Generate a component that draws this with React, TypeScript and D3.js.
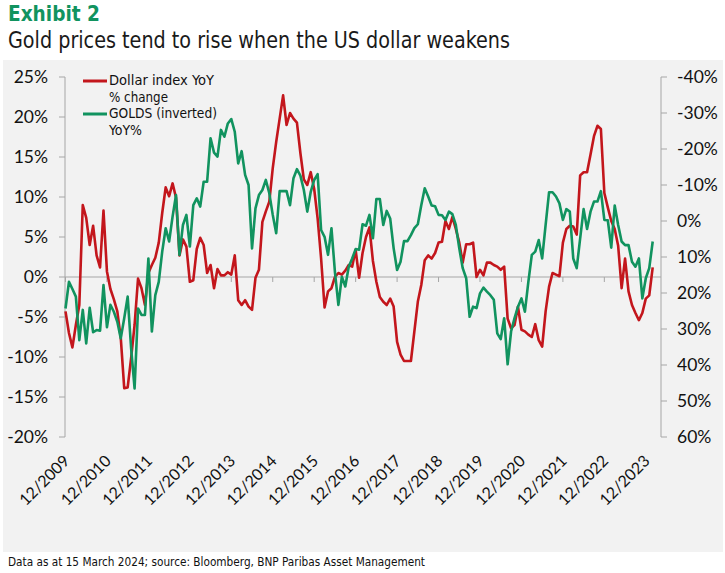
import * as d3 from "d3";

// monthly YoY % change, 12/2009 .. 02/2024
const dollarYoY = [
  -4.3, -7.0, -8.8, -6.0, -3.5, 9.0, 7.4, 4.0, 6.4, 2.7,
  1.2, 8.3, 0.7, -1.5, -2.8, -4.3, -7.6, -13.9, -13.8, -10.1,
  -6.0, -0.2, -1.4, -3.5, 0.5, 1.5, 2.4, 4.3, 8.0, 11.2,
  10.1, 11.7, 9.9, 2.7, 4.7, 3.8, -0.6, -0.4, 3.5, 4.9,
  4.0, 0.5, 1.5, -1.4, 1.0, 0.2, 0.2, 0.6, 0.3, 2.7,
  -2.9, -3.5, -2.9, -3.7, -4.1, -0.1, 0.9, 6.9, 8.2, 9.4,
  13.6, 16.9, 19.8, 22.7, 19.0, 20.5, 19.8, 19.3, 15.5, 12.2,
  11.5, 13.1, 11.0, 7.3, 2.3, -3.8, -1.8, -1.4, 0.0, 0.5,
  0.3, 0.8, 1.5, 1.3, 3.4, -0.1, 3.0, 5.0, 6.2, 2.0,
  -0.6, -2.5, -3.1, -3.5, -2.7, -3.7, -8.1, -9.7, -10.5, -10.5,
  -10.5, -6.8, -3.1, -1.0, 2.1, 2.7, 2.3, 3.0, 4.3, 4.4,
  7.0, 6.0, 7.5, 6.0, 4.3, 1.8, 4.1, 4.1, 4.3, 0.0,
  0.9, 0.2, 1.8, 1.8, 1.5, 1.3, 0.9, 1.3, -5.2, -6.4,
  -6.0, -3.7, -6.6, -6.8, -7.2, -7.5, -5.9, -7.9, -8.7, -4.3,
  -1.2, 0.5, 0.3, 0.1, 4.3, 6.0, 6.4, 6.3, 5.3, 12.7,
  13.1, 13.1, 15.3, 17.6, 18.9, 18.5, 10.5, 8.7, 7.0, 6.0,
  3.9, -1.4, 2.3, -1.8, -3.5, -4.5, -5.4, -4.5, -2.7, -2.3,
  1.2,
];

// gold YoY %, plotted on the inverted right axis
const goldYoY = [
  24.3, 16.9, 18.9, 21.0, 33.1, 24.7, 34.0, 24.1, 30.9, 30.3,
  30.5, 17.8, 29.5, 23.3, 25.2, 28.0, 32.6, 27.0, 21.0, 35.4,
  46.5, 24.3, 26.1, 26.1, 10.4, 30.7, 20.6, 16.9, 8.5, 2.0,
  5.7, -1.2, -7.2, 9.4, 1.1, -1.7, 7.1, -4.4, -6.3, -4.0,
  -10.9, -10.9, -23.0, -19.0, -17.9, -25.3, -23.4, -27.1, -28.3, -24.8,
  -16.0, -19.4, -12.8, -10.0, 7.6, -3.5, -7.2, -8.6, -11.4, -7.7,
  -1.7, 3.4, -8.3, -8.3, -8.3, -4.4, -11.9, -14.4, -12.6, -8.6,
  -2.6, -8.1, -11.4, -13.0, 2.5, 4.4, 9.4, 2.0, 14.1, 23.3,
  15.5, 18.2, 12.7, 10.4, 7.8, 8.0, 0.9, 1.3, -1.7, 4.8,
  -6.1, -6.1, 1.1, -2.8, -0.7, 7.6, 13.6, 11.3, 5.6, 5.6,
  3.9, 2.0, 0.9, -4.4, -9.1, -6.8, -4.3, -4.1, -1.7, -1.6,
  -0.3, -2.6, -1.9, 1.1, 7.6, 13.1, 15.9, 26.6, 23.8, 24.2,
  20.1, 18.5, 19.6, 20.6, 21.9, 31.2, 32.8, 27.0, 39.8, 30.7,
  27.0, 23.8, 21.5, 25.2, 16.9, 9.4, 8.5, 5.3, 10.4, 1.1,
  -8.0, -8.0, -6.8, -4.9, -0.3, -3.3, -2.6, 10.4, 13.1, 4.8,
  -3.3, 2.2, -2.6, -5.4, -5.4, -8.3, -0.3, -0.2, 7.4, -4.3,
  1.1, 5.7, 6.7, 6.7, 11.3, 12.7, 10.4, 21.5, 15.9, 13.1,
  5.7,
];

const xTickLabels = [
  "12/2009", "12/2010", "12/2011", "12/2012", "12/2013",
  "12/2014", "12/2015", "12/2016", "12/2017", "12/2018",
  "12/2019", "12/2020", "12/2021", "12/2022", "12/2023",
];
const leftTicks = [25, 20, 15, 10, 5, 0, -5, -10, -15, -20];
const rightTicks = [-40, -30, -20, -10, 0, 10, 20, 30, 40, 50, 60];

const RED = "#c3161c";
const GREEN = "#11935f";
const AXIS = "#a6a6a6";
const narrow = "'Liberation Sans Narrow', 'DejaVu Sans Condensed', Roboto, sans-serif";
const labelFont = "Lato, 'Open Sans', sans-serif";

export default function App() {
  const width = 725;
  const height = 573;

  const x = d3.scaleLinear().domain([0, dollarYoY.length - 1]).range([65.5, 652.7]);
  const yL = d3.scaleLinear().domain([-20, 25]).range([437, 77]);
  const yR = d3.scaleLinear().domain([-40, 60]).range([77, 437]);

  const dollarLine = d3
    .line<number>()
    .x((_, i) => x(i))
    .y((d) => yL(d));
  const goldLine = d3
    .line<number>()
    .x((_, i) => x(i))
    .y((d) => yR(d));

  const left = 65;
  const right = 661;
  const zeroY = yL(0);

  // legend rows: [text, width in px]
  const legendRows: [string, number, number][] = [
    ["Dollar index YoY", 105, 80],
    ["% change", 59, 97],
    ["GOLDS (inverted)", 108, 113],
    ["YoY%", 33, 130],
  ];

  return (
    <svg
      width={width}
      height={height}
      style={{ position: "absolute", left: 0, top: 0, background: "#fff" }}
    >
      {/* titles */}
      <text x={8} y={21} fill={GREEN} fontFamily={narrow} fontWeight="bold" fontSize={22} textLength={92} lengthAdjust="spacingAndGlyphs">
        Exhibit 2
      </text>
      <text x={8} y={48} fill="#1a1a1a" fontFamily={narrow} fontSize={23} textLength={502} lengthAdjust="spacingAndGlyphs">
        Gold prices tend to rise when the US dollar weakens
      </text>

      {/* panel */}
      <rect x={3} y={60} width={720} height={492} fill="#f2f2f2" />

      {/* left axis */}
      <line x1={left} x2={left} y1={yL(25)} y2={yL(-20)} stroke={AXIS} />
      {leftTicks.map((t) => (
        <g key={"l" + t}>
          <line x1={left - 6} x2={left} y1={yL(t)} y2={yL(t)} stroke={AXIS} />
          <text x={48} y={yL(t)} dy="0.36em" textAnchor="end" fontFamily={labelFont} fontSize={17.5} fill="#111">
            {t}%
          </text>
        </g>
      ))}

      {/* right axis */}
      <line x1={right} x2={right} y1={yR(-40)} y2={yR(60)} stroke={AXIS} />
      {rightTicks.map((t) => (
        <g key={"r" + t}>
          <line x1={right} x2={right + 6} y1={yR(t)} y2={yR(t)} stroke={AXIS} />
          <text x={677} y={yR(t)} dy="0.36em" textAnchor="start" fontFamily={labelFont} fontSize={17.5} fill="#111">
            {t}%
          </text>
        </g>
      ))}

      {/* x axis along zero */}
      <line x1={left} x2={right} y1={zeroY} y2={zeroY} stroke={AXIS} />
      {xTickLabels.map((lab, k) => {
        const tx = x(k * 12);
        return (
          <g key={lab}>
            <line x1={tx} x2={tx} y1={zeroY} y2={zeroY + 5} stroke={AXIS} />
            <text
              transform={`translate(${tx + 5}, 462) rotate(-45)`}
              textAnchor="end"
              fontFamily={labelFont}
              fontSize={16}
              fill="#111"
            >
              {lab}
            </text>
          </g>
        );
      })}

      {/* series */}
      <path d={dollarLine(dollarYoY) || ""} fill="none" stroke={RED} strokeWidth={2.6} strokeLinejoin="round" />
      <path d={goldLine(goldYoY) || ""} fill="none" stroke={GREEN} strokeWidth={2.6} strokeLinejoin="round" />

      {/* legend */}
      <line x1={83} x2={107} y1={81} y2={81} stroke={RED} strokeWidth={3} />
      <line x1={83} x2={107} y1={114} y2={114} stroke={GREEN} strokeWidth={3} />
      {legendRows.map(([t, w, ly]) => (
        <text key={t} x={109} y={ly} dy="0.35em" fontFamily={narrow} fontSize={14.5} fill="#111" textLength={w} lengthAdjust="spacingAndGlyphs">
          {t}
        </text>
      ))}

      {/* footer */}
      <text x={8} y={566} fontFamily={narrow} fontSize={13} fill="#111" textLength={417} lengthAdjust="spacingAndGlyphs">
        Data as at 15 March 2024; source: Bloomberg, BNP Paribas Asset Management
      </text>
    </svg>
  );
}
